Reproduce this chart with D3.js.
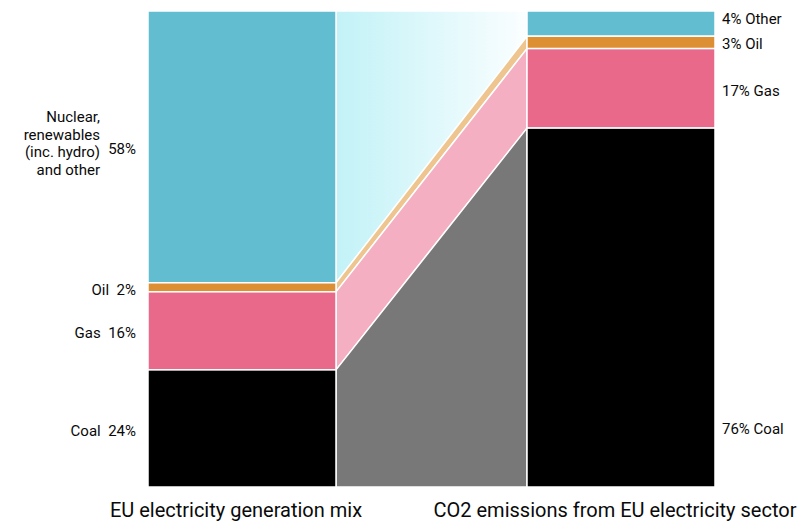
<!DOCTYPE html>
<html>
<head>
	<meta charset="utf-8">
	<title></title>
	<script src="https://d3js.org/d3.v7.min.js" charset="utf-8"></script>
	<style type="text/css">
		body {
			margin: 0;
			background-color: #ffffff;
		}
		svg text {
			font-family: 'Roboto', 'DejaVu Sans Condensed', sans-serif;
			fill: #0a0a0a;
		}
	</style>
</head>
<body>
	<div id="chart"></div>
	<script type="text/javascript">

		// bars
		var columns = ['EU electricity generation mix', 'CO2 emissions from EU electricity sector'];
		// segments from top to bottom
		var fuels = ['Other', 'Oil', 'Gas', 'Coal'];
		var mixValues = [57.1, 1.9, 16.4, 24.6];
		var co2Values = [5.3, 2.6, 16.7, 75.4];
		var mixLabels = ['58%', 'Oil  2%', 'Gas  16%', 'Coal  24%'];
		var co2Labels = ['4% Other', '3% Oil', '17% Gas', '76% Coal'];
		var otherLines = ['Nuclear,', 'renewables', '(inc. hydro)', 'and other'];

		var barColor = {Other: '#62bdd0', Oil: '#dd8f33', Gas: '#e8698a', Coal: '#000000'};
		var flowColor = {Other: 'url(#fade)', Oil: '#eec48f', Gas: '#f4b0c2', Coal: '#787878'};

		var w = 797;
		var h = 522;

		var svg = d3.select('#chart')
			.append('svg')
			.attr('width', w)
			.attr('height', h);

		var grad = svg.append('defs')
			.append('linearGradient')
			.attr('id', 'fade')
			.attr('x1', '0%').attr('x2', '100%')
			.attr('y1', '0%').attr('y2', '0%');
		grad.append('stop').attr('offset', '0%').attr('stop-color', '#c2f2f7');
		grad.append('stop').attr('offset', '100%').attr('stop-color', '#fbfeff');

		var x = d3.scaleBand()
			.domain(columns)
			.range([148, 715])
			.paddingInner(0.504)
			.paddingOuter(0);

		var y = d3.scaleLinear()
			.domain([0, 100])
			.range([487, 11]);

		// turn values into stacked segments (top to bottom)
		function stackIt(values) {
			var acc = 100;
			return values.map(function(v, i) {
				var seg = {fuel: fuels[i], top: acc, bottom: acc - v};
				acc -= v;
				return seg;
			});
		}

		var mixSegs = stackIt(mixValues);
		var co2Segs = stackIt(co2Values);

		var xl = x(columns[0]) + x.bandwidth();
		var xr = x(columns[1]);

		// flows between the two bars
		svg.selectAll('.flow')
			.data(fuels)
			.enter()
			.append('path')
			.attr('class', 'flow')
			.attr('d', function(d, i) {
				var a = mixSegs[i], b = co2Segs[i];
				return 'M' + xl + ',' + y(a.top) +
					'L' + xr + ',' + y(b.top) +
					'L' + xr + ',' + y(b.bottom) +
					'L' + xl + ',' + y(a.bottom) + 'Z';
			})
			.attr('fill', function(d) { return flowColor[d]; })
			.attr('stroke', '#ffffff')
			.attr('stroke-width', 1.5);

		// bars
		[mixSegs, co2Segs].forEach(function(segs, c) {
			svg.append('g')
				.selectAll('rect')
				.data(segs)
				.enter()
				.append('rect')
				.attr('x', x(columns[c]))
				.attr('width', x.bandwidth())
				.attr('y', function(d) { return y(d.top); })
				.attr('height', function(d) { return y(d.bottom) - y(d.top); })
				.attr('fill', function(d) { return barColor[d.fuel]; })
				.attr('stroke', '#ffffff')
				.attr('stroke-width', 1.5);
		});

		// left labels
		var leftX = x(columns[0]) - 12;
		svg.append('g')
			.selectAll('text')
			.data(mixSegs)
			.enter()
			.append('text')
			.attr('x', leftX)
			.attr('y', function(d) { return (y(d.top) + y(d.bottom)) / 2 + 2; })
			.attr('dy', '0.35em')
			.attr('text-anchor', 'end')
			.attr('font-size', '15px')
			.style('white-space', 'pre')
			.text(function(d, i) { return mixLabels[i]; });

		var otherMid = (y(mixSegs[0].top) + y(mixSegs[0].bottom)) / 2;
		svg.append('g')
			.selectAll('text')
			.data(otherLines)
			.enter()
			.append('text')
			.attr('x', leftX - 36)
			.attr('y', function(d, i) { return otherMid + (i - 1.7) * 17.5; })
			.attr('dy', '0.35em')
			.attr('text-anchor', 'end')
			.attr('font-size', '15px')
			.text(function(d) { return d; });

		// right labels (small nudges so the top two don't collide)
		var nudge = [-4.5, 1, 2, 121];
		svg.append('g')
			.selectAll('text')
			.data(co2Segs)
			.enter()
			.append('text')
			.attr('x', xr + x.bandwidth() + 7)
			.attr('y', function(d, i) { return (y(d.top) + y(d.bottom)) / 2 + nudge[i]; })
			.attr('dy', '0.35em')
			.attr('font-size', '15px')
			.text(function(d, i) { return co2Labels[i]; });

		// column titles
		svg.selectAll('.title')
			.data(columns)
			.enter()
			.append('text')
			.attr('class', 'title')
			.attr('x', function(d) { return x(d) + x.bandwidth() / 2 - 6; })
			.attr('y', 510)
			.attr('dy', '0.35em')
			.attr('text-anchor', 'middle')
			.attr('font-size', '20px')
			.text(function(d) { return d; });

	</script>
</body>
</html>
